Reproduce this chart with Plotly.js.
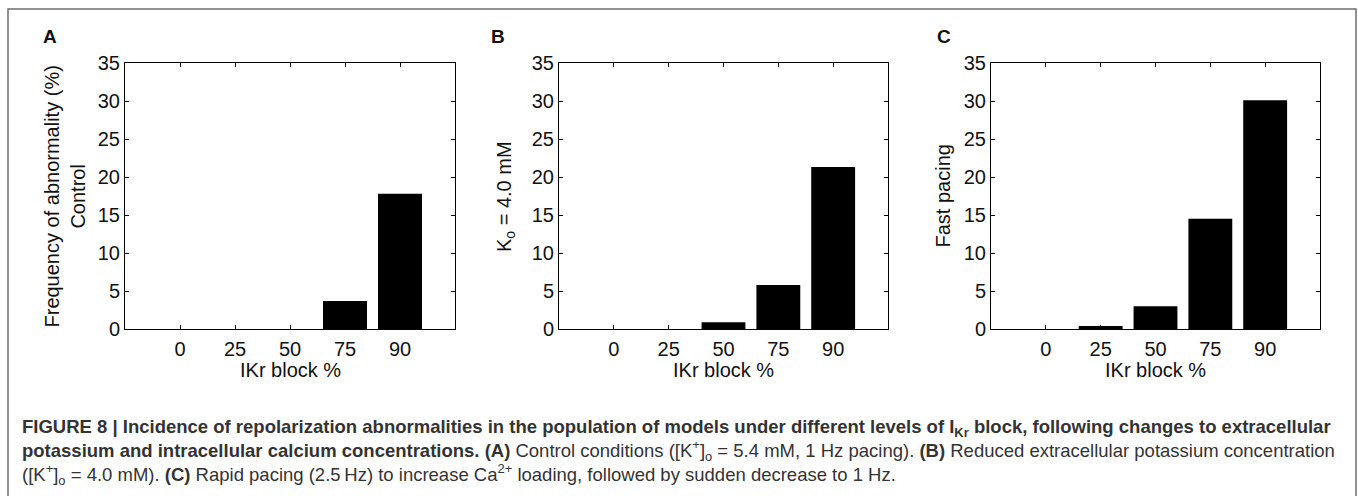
<!DOCTYPE html>
<html>
<head>
<meta charset="utf-8">
<script src="https://cdn.plot.ly/plotly-3.0.1.min.js"></script>
<style>
  html, body { margin: 0; padding: 0; background: #fff; }
  #chart { width: 1358px; height: 496px; }
</style>
</head>
<body>
<div id="chart"></div>
<script>
// ---- data ----
const categories = ["0", "25", "50", "75", "90"];
const controlValues = [0, 0, 0, 3.7, 17.8];
const lowKValues = [0, 0, 0.9, 5.8, 21.3];
const fastPacingValues = [0, 0.4, 3.0, 14.5, 30.1];
const yTickVals = [0, 5, 10, 15, 20, 25, 30, 35];
const panelLetters = ["A", "B", "C"];
const yTitles = ["Frequency of abnormality (%)<br>Control", "K<sub>o</sub> = 4.0 mM", "Fast pacing"];
const xTitle = "IKr block %";
const captionLines = [
  "<b>FIGURE 8 | Incidence of repolarization abnormalities in the population of models under different levels of I<sub>Kr</sub> block, following changes to extracellular</b>",
  "<b>potassium and intracellular calcium concentrations. (A)</b> Control conditions ([K<sup>+</sup>]<sub>o</sub> = 5.4 mM, 1 Hz pacing). <b>(B)</b> Reduced extracellular potassium concentration",
  "([K<sup>+</sup>]<sub>o</sub> = 4.0 mM). <b>(C)</b> Rapid pacing (2.5\u2009Hz) to increase Ca<sup>2+</sup> loading, followed by sudden decrease to 1 Hz."
];

// ---- layout helpers ----
const W = 1358, H = 496;
const px = x => x / W;
const py = y => 1 - y / H;

const panelsPx = [[125, 455], [559, 888], [991, 1320]];
const plotTop = 63, plotBottom = 329;
const seriesList = [controlValues, lowKValues, fastPacingValues];

const tickFont = { family: "Liberation Sans, Arial, sans-serif", size: 20, color: "#111" };

const traces = seriesList.map((vals, i) => ({
  type: "bar",
  x: categories,
  y: vals,
  xaxis: i === 0 ? "x" : "x" + (i + 1),
  yaxis: i === 0 ? "y" : "y" + (i + 1),
  marker: { color: "#000", line: { width: 0 } },
  hoverinfo: "x+y",
  showlegend: false
}));

const layout = {
  width: W, height: H,
  margin: { l: 0, r: 0, t: 0, b: 0 },
  paper_bgcolor: "#fff",
  plot_bgcolor: "#fff",
  bargap: 0.2,
  showlegend: false,
  annotations: [],
  shapes: [
    { type: "rect", xref: "paper", yref: "paper",
      x0: px(8), x1: px(1356), y0: py(520), y1: py(9),
      line: { color: "#6e6e6e", width: 1.5 }, fillcolor: "rgba(0,0,0,0)", layer: "below" }
  ]
};

panelsPx.forEach((p, i) => {
  const s = i === 0 ? "" : String(i + 1);
  layout["xaxis" + s] = {
    domain: [px(p[0]), px(p[1])],
    anchor: "y" + s,
    type: "category",
    range: [-1, 5],
    showline: true, mirror: "ticks", linecolor: "#000", linewidth: 1,
    ticks: "inside", ticklen: 4, tickcolor: "#000", tickwidth: 1,
    showgrid: false, zeroline: false,
    tickfont: tickFont,
    ticklabelstandoff: 2,
    fixedrange: true
  };
  layout["yaxis" + s] = {
    domain: [py(plotBottom), py(plotTop)],
    anchor: "x" + s,
    range: [0, 35],
    tickvals: yTickVals,
    showline: true, mirror: "ticks", linecolor: "#000", linewidth: 1,
    ticks: "inside", ticklen: 4, tickcolor: "#000", tickwidth: 1,
    showgrid: false, zeroline: false,
    tickfont: tickFont,
    fixedrange: true
  };
});

// panel letters
const letterX = [50, 498, 944];
panelLetters.forEach((L, i) => {
  layout.annotations.push({
    xref: "paper", yref: "paper", x: px(letterX[i]), y: py(37),
    xanchor: "center", yanchor: "middle", showarrow: false,
    text: "<b>" + L + "</b>",
    font: { family: "Liberation Sans, Arial, sans-serif", size: 19, color: "#111" }
  });
});

// y titles
const yTitlePos = [[64.5, 197], [505, 197], [942.5, 196]];
yTitles.forEach((t, i) => {
  layout.annotations.push({
    xref: "paper", yref: "paper", x: px(yTitlePos[i][0]), y: py(yTitlePos[i][1]),
    xanchor: "center", yanchor: "middle", showarrow: false, textangle: -90,
    text: t,
    font: { family: "Liberation Sans, Arial, sans-serif", size: 20, color: "#111" }
  });
});

// x titles
panelsPx.forEach((p, i) => {
  layout.annotations.push({
    xref: "paper", yref: "paper", x: px((p[0] + p[1]) / 2), y: py(370),
    xanchor: "center", yanchor: "middle", showarrow: false,
    text: xTitle,
    font: { family: "Liberation Sans, Arial, sans-serif", size: 20, color: "#111" }
  });
});

// caption (one block, three lines)
layout.annotations.push({
  xref: "paper", yref: "paper", x: px(20), y: py(452),
  xanchor: "left", yanchor: "middle", showarrow: false, align: "left",
  text: captionLines.join("<br>"),
  font: { family: "Liberation Sans, Arial, sans-serif", size: 18.5, color: "#333" }
});

Plotly.newPlot("chart", traces, layout, { displayModeBar: false, staticPlot: true });
</script>
</body>
</html>
